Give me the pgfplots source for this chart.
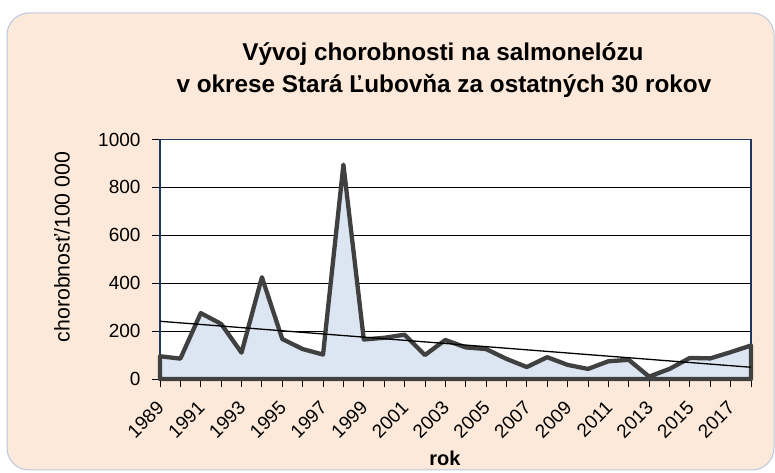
\documentclass[border=0pt]{standalone}
\usepackage{pgfplots}
\pgfplotsset{compat=1.18}
\usepackage{pgfplotstable}
\usepackage{fontspec}
\setmainfont{Liberation Sans}

\definecolor{peach}{RGB}{253,233,217}
\definecolor{areafill}{RGB}{220,230,242}
\definecolor{linegray}{RGB}{64,64,64}
\definecolor{framenavy}{RGB}{31,56,96}
\definecolor{boxedge}{RGB}{185,200,225}

% incidence per 100 000, Stara Lubovna district
\pgfplotstableread{
year value
1989 95
1990 85
1991 275
1992 230
1993 110
1994 425
1995 167
1996 125
1997 102
1998 895
1999 165
2000 172
2001 185
2002 100
2003 163
2004 132
2005 125
2006 84
2007 50
2008 91
2009 59
2010 42
2011 74
2012 80
2013 10
2014 42
2015 88
2016 86
2017 112
2018 140
}\incidence

\begin{document}
\begin{tikzpicture}
\useasboundingbox (0pt,0pt) rectangle (775pt,473pt);
\draw[boxedge, fill=peach, rounded corners=22pt, line width=1pt] (7pt,3pt) rectangle (774pt,460pt);
\node[font=\fontsize{24.3}{31}\selectfont\bfseries, anchor=base] at (443pt,412pt) {Vývoj chorobnosti na salmonelózu};
\node[font=\fontsize{24.3}{31}\selectfont\bfseries, anchor=base] at (444pt,380pt) {v okrese Stará Ľubovňa za ostatných 30 rokov};
\node[rotate=90, font=\fontsize{21.3}{24}\selectfont] at (62pt,226pt) {chorobnosť/100 000};
\node[font=\fontsize{20}{24}\selectfont\bfseries, anchor=base] at (445pt,8pt) {rok};

\begin{axis}[
    at={(160pt,94pt)}, anchor=south west,
    scale only axis,
    width=591pt, height=239.5pt,
    xmin=1989, xmax=2018,
    ymin=0, ymax=1000,
    xtick={1989,1991,...,2017},
    minor xtick={1990,1992,...,2018},
    ytick={0,200,...,1000},
    tick pos=left,
    tick align=outside,
    major tick length=8pt,
    minor tick length=8pt,
    tick style={black, line width=0.8pt},
    ymajorgrids,
    major grid style={black, line width=0.8pt},
    axis line style={framenavy, line width=1.2pt},
    axis background/.style={fill=white},
    /pgf/number format/assume math mode=true,
    /pgf/number format/1000 sep={},
    tick label style={font=\fontsize{19}{22}\selectfont},
    y tick label style={xshift=-8pt},
    x tick label style={rotate=45, anchor=north east, inner sep=2pt, xshift=-10pt, yshift=-4pt},
    clip=false,
]
\addplot[fill=areafill, draw=linegray, line width=4.3pt, line join=round]
    table[x=year, y=value] {\incidence} \closedcycle;
\addplot[black, line width=1.3pt] coordinates {(1989,241) (2018,49)};
\end{axis}
\end{tikzpicture}
\end{document}
